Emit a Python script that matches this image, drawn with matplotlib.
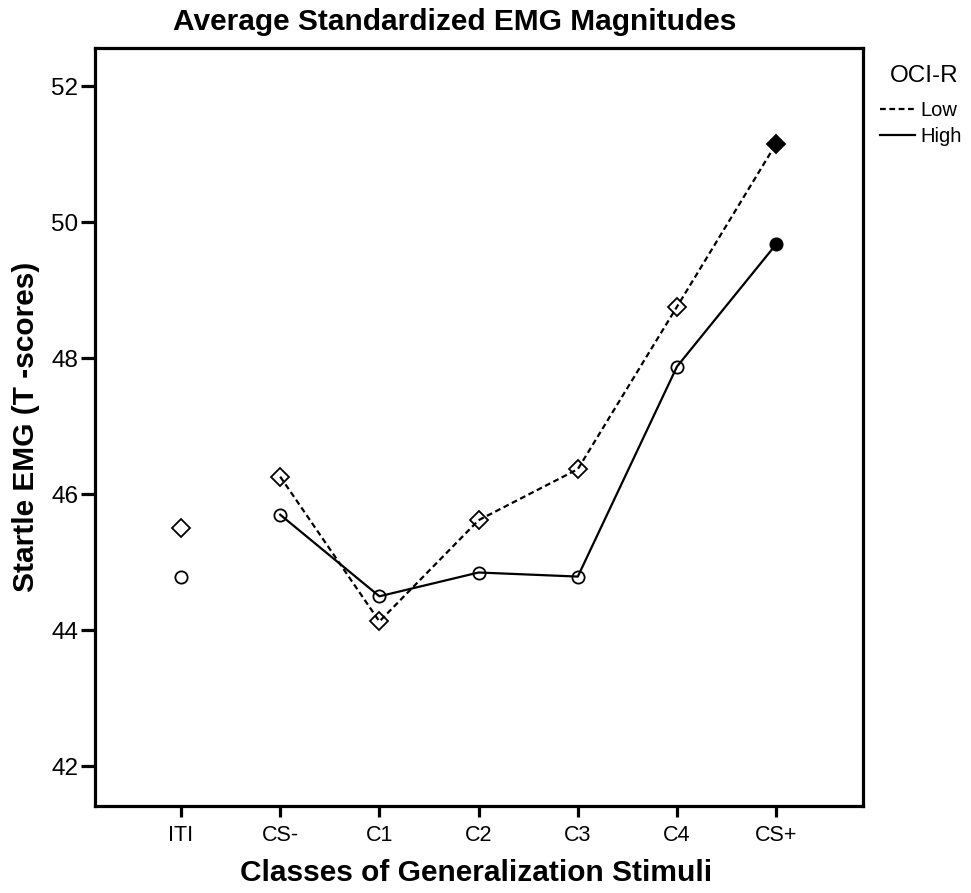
import matplotlib
matplotlib.use("Agg")
import matplotlib.pyplot as plt
import numpy as np
from matplotlib.lines import Line2D

categories = ['ITI', 'CS-', 'C1', 'C2', 'C3', 'C4', 'CS+']
low = [45.51, 46.26, 44.13, 45.62, 46.37, 48.76, 51.16]
high = [44.79, 45.70, 44.50, 44.85, 44.79, 47.88, 49.68]
yticks = [42, 44, 46, 48, 50, 52]

plt.rcParams['font.family'] = ['Liberation Sans', 'DejaVu Sans']

fig = plt.figure(figsize=(9.71, 8.93), dpi=100)
ax = fig.add_axes([95/971, 1-806/893, (863-95)/971, (806-48)/893])

x = np.arange(len(categories))
dash = (0, (2.6, 1.6))
ax.plot(x[1:], low[1:], ls=dash, color='black', lw=1.6, zorder=2)
ax.plot(x[1:], high[1:], ls='-', color='black', lw=1.6, zorder=2)

dms = 9.2
cms = 8.8
ax.plot(x[:-1], low[:-1], ls='none', marker='D', ms=dms, mfc='none', mec='black', mew=1.3, zorder=3)
ax.plot(x[:-1], high[:-1], ls='none', marker='o', ms=cms, mfc='none', mec='black', mew=1.3, zorder=3)
ax.plot(x[-1:], low[-1:], ls='none', marker='D', ms=dms, mfc='black', mec='black', mew=1.3, zorder=3)
ax.plot(x[-1:], high[-1:], ls='none', marker='o', ms=cms, mfc='black', mec='black', mew=1.3, zorder=3)

ax.set_xlim(-0.867, 6.875)
ax.set_ylim(41.415, 52.566)
ax.set_xticks(x)
ax.set_xticklabels(categories)
ax.set_yticks(yticks)
ax.set_yticklabels([str(t) for t in yticks])

for s in ax.spines.values():
    s.set_linewidth(2.3)
ax.tick_params(axis='y', length=10, width=2.3, labelsize=17.5, pad=2)
ax.tick_params(axis='x', length=8, width=2.3, labelsize=15.5, pad=6)

ax.set_ylabel('Startle EMG (T -scores)', fontsize=21.5, fontweight='bold', labelpad=8)
fig.text(476/971, 1-873/893, 'Classes of Generalization Stimuli', fontsize=21.5,
         fontweight='bold', ha='center', va='center')
fig.text(455/971, 1-22/893, 'Average Standardized EMG Magnitudes', fontsize=21.5,
         fontweight='bold', ha='center', va='center')

fig.text(924/971, 1-76/893, 'OCI-R', fontsize=17.5, ha='center', va='center')
handles = [Line2D([], [], color='black', ls=dash, lw=1.6),
           Line2D([], [], color='black', ls='-', lw=1.6)]
leg = fig.legend(handles, ['Low', 'High'], loc='upper left',
                 bbox_to_anchor=(880/971, 1-101/893), frameon=False, fontsize=14.5,
                 handlelength=1.75, handletextpad=0.25,
                 labelspacing=0.33, borderpad=0, borderaxespad=0)

fig.savefig('out.png', dpi=100, facecolor='white')
